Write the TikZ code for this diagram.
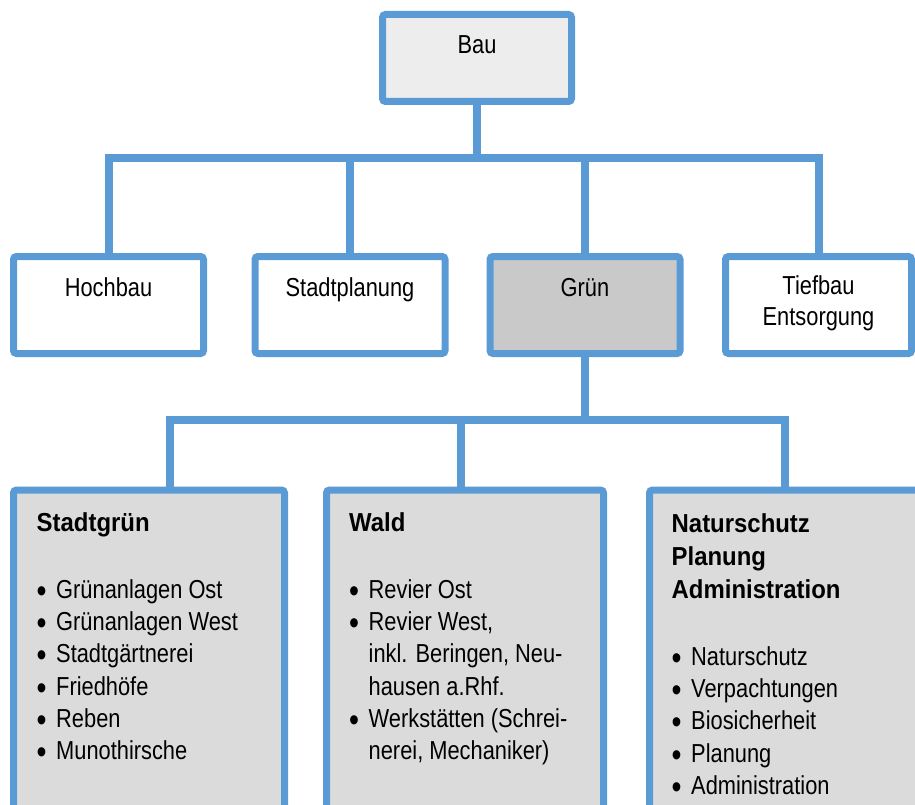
\documentclass[tikz,border=0pt]{standalone}
\usepackage{fontspec}
\usepackage{graphicx}
\setmainfont{Liberation Sans}[FakeStretch=0.84,BoldFeatures={FakeStretch=0.92}]
\definecolor{orgblue}{HTML}{5B9BD5}
\definecolor{topgrey}{HTML}{EDEDED}
\definecolor{midgrey}{HTML}{C9C9C9}
\definecolor{lowgrey}{HTML}{DBDBDB}
\newcommand{\itm}[1]{\makebox[19.5pt][l]{\raisebox{-4pt}{\scalebox{1.3}{\textbullet}}}#1}
\newcommand{\cont}[1]{\hspace*{19.5pt}#1}

\begin{document}
\begin{tikzpicture}[x=1pt,y=-1pt,font=\fontsize{26}{32.3}\selectfont,
  unit/.style={draw=orgblue,line width=7pt,rounded corners=3pt,inner sep=0pt,
    minimum width=190pt,minimum height=97pt,text height=39.5pt,text depth=57.5pt},
  dept/.style={draw=orgblue,line width=7pt,rounded corners=3pt,fill=lowgrey,
    minimum width=271pt,minimum height=350pt},
  lst/.style={anchor=base west,inner sep=0pt},
  conn/.style={draw=orgblue,line width=8pt}]
  \useasboundingbox (0,0) rectangle (915,805);
  \clip (0,0) rectangle (915,805);
  % top level
  \node[unit,fill=topgrey,minimum width=189pt,minimum height=87pt,
    text height=38.8pt,text depth=48.2pt] (bau) at (477,58) {Bau};
  \node[unit] (hoch) at (108.5,305) {Hochbau};
  \node[unit] (plan) at (350,305) {Stadtplanung};
  \node[unit,fill=midgrey] (gruen) at (585,305) {Grün};
  \node[unit,minimum width=186pt,text height=37.5pt,text depth=59.5pt] (tief) at (818.5,305)
    {\fontsize{26}{31}\selectfont\begin{tabular}[t]{@{}c@{}}Tiefbau\\Entsorgung\end{tabular}};
  % departments
  \node[dept] (sg) at (149,665) {};
  \node[dept,minimum width=277pt] (wald) at (465,665) {};
  \node[dept] (nat) at (785,665) {};
  \node[lst] (sgl) at (36.5,531) {\begin{tabular}[t]{@{}l@{}}\textbf{Stadtgrün}\\[35pt]
    \itm{Grünanlagen Ost}\\\itm{Grünanlagen West}\\\itm{Stadtgärtnerei}\\
    \itm{Friedhöfe}\\\itm{Reben}\\\itm{Munothirsche}\end{tabular}};
  \node[lst] (waldl) at (349,531) {\begin{tabular}[t]{@{}l@{}}\textbf{Wald}\\[35pt]
    \itm{Revier Ost}\\\itm{Revier West,}\\\cont{inkl. Beringen, Neu-}\\\cont{hausen a.Rhf.}\\
    \itm{Werkstätten (Schrei-}\\\cont{nerei, Mechaniker)}\end{tabular}};
  \node[lst] (natl) at (671.5,532) {\begin{tabular}[t]{@{}l@{}}\textbf{Naturschutz}\\[0.7pt]
    \textbf{Planung}\\[0.7pt]\textbf{Administration}\\[35pt]
    \itm{Naturschutz}\\\itm{Verpachtungen}\\\itm{Biosicherheit}\\
    \itm{Planung}\\\itm{Administration}\end{tabular}};
  % connectors
  \coordinate (hub) at (477,158);
  \coordinate (hub2) at (585,419.5);
  \draw[conn] (bau) -- (hub);
  \draw[conn] (hoch) |- (hub) -| (tief);
  \draw[conn] (plan) -- (plan |- hub);
  \draw[conn] (gruen) -- (gruen |- hub);
  \draw[conn] (gruen) -- (hub2);
  \draw[conn] ([xshift=21pt]sg.north) |- (hub2) -| (nat);
  \draw[conn] ([xshift=-4pt]wald.north) -- ([xshift=-4pt]wald.north |- hub2);
\end{tikzpicture}
\end{document}
